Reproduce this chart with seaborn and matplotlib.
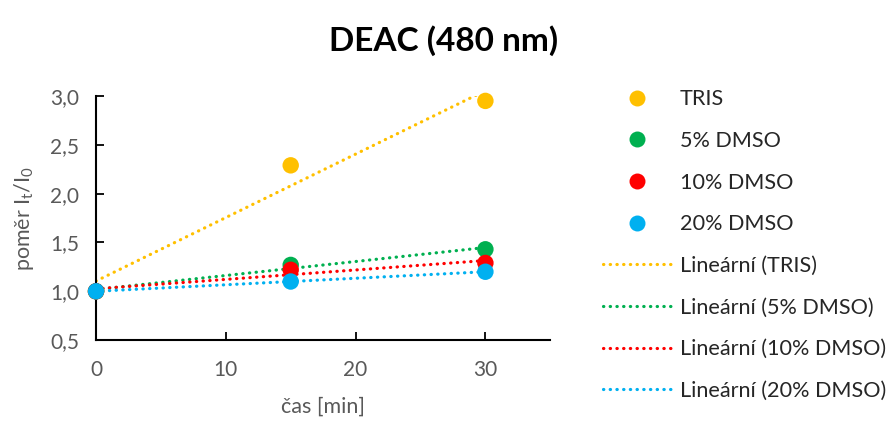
import numpy as np
import pandas as pd
import matplotlib
matplotlib.use("Agg")
import matplotlib.pyplot as plt
import seaborn as sns
from matplotlib.lines import Line2D

# ---- data ----
time_min = [0, 15, 30]
series_names = ["TRIS", "5% DMSO", "10% DMSO", "20% DMSO"]
tris = [1.00, 2.29, 2.95]
dmso5 = [1.00, 1.27, 1.43]
dmso10 = [1.00, 1.22, 1.29]
dmso20 = [1.00, 1.10, 1.20]
colors = ["#FFC000", "#00B050", "#FF0000", "#00B0F0"]
x_ticks = [0, 10, 20, 30]
y_ticks = [0.5, 1.0, 1.5, 2.0, 2.5, 3.0]
y_ticklabels = ["0,5", "1,0", "1,5", "2,0", "2,5", "3,0"]

sns.set_theme(style="white")
plt.rcParams["font.family"] = ["Lato", "DejaVu Sans"]
plt.rcParams["mathtext.fontset"] = "custom"
plt.rcParams["mathtext.rm"] = "Lato"
plt.rcParams["mathtext.it"] = "Lato"

rows = []
for name, vals in zip(series_names, [tris, dmso5, dmso10, dmso20]):
    for t, v in zip(time_min, vals):
        rows.append({"cas": t, "pomer": v, "serie": name})
df = pd.DataFrame(rows)

fig = plt.figure(figsize=(8.89, 4.23), dpi=100)
ax = fig.add_axes([0.108, 0.196, 0.511, 0.577])

gray = "#595959"
fs = 15

# trendlines
for name, c in zip(series_names, colors):
    sub = df[df["serie"] == name]
    sns.regplot(data=sub, x="cas", y="pomer", ax=ax, scatter=False, ci=None,
                truncate=True,
                line_kws=dict(color=c, lw=2.3, linestyle=(0, (0.1, 2.0)),
                              dash_capstyle="round", zorder=2))

sns.scatterplot(data=df, x="cas", y="pomer", hue="serie", hue_order=series_names,
                palette=colors, s=140, edgecolor="none", ax=ax, legend=False,
                zorder=3, clip_on=False)

ax.set_xlim(0, 35)
ax.set_ylim(0.5, 3.0)
ax.set_xticks(x_ticks)
ax.set_yticks(y_ticks)
ax.set_yticklabels(y_ticklabels)
ax.tick_params(axis="both", direction="in", length=6, width=1.3, colors="black",
               labelcolor=gray, labelsize=fs, bottom=True, left=True)
ax.tick_params(axis="x", pad=14)
ax.tick_params(axis="y", pad=12)
for s in ["top", "right"]:
    ax.spines[s].set_visible(False)
for s in ["left", "bottom"]:
    ax.spines[s].set_color("black")
    ax.spines[s].set_linewidth(1.5)

ax.set_xlabel("čas [min]", color=gray, fontsize=15.5, labelpad=12)
ax.set_ylabel("poměr I$_{\\mathrm{t}}$/I$_{0}$", color=gray, fontsize=15.5, labelpad=10)

fig.text(0.499, 0.905, "DEAC (480 nm)", ha="center", va="center",
         fontsize=24, fontweight="bold", color="black")

handles = []
for c in colors:
    handles.append(Line2D([], [], marker="o", linestyle="none", color=c,
                          markersize=11.5, markeredgewidth=0))
for c in colors:
    handles.append(Line2D([], [], color=c, lw=2.3, linestyle=(0, (0.1, 2.0)),
                          dash_capstyle="round"))
labels = series_names + ["Lineární (" + n + ")" for n in series_names]
ax.legend(handles, labels, loc="upper left", bbox_to_anchor=(0.678, 0.789),
          bbox_transform=fig.transFigure, frameon=False, fontsize=15.6,
          handlelength=3.2, handletextpad=0.36, labelspacing=1.0,
          borderpad=0, borderaxespad=0)

fig.savefig("out.png", dpi=100)
